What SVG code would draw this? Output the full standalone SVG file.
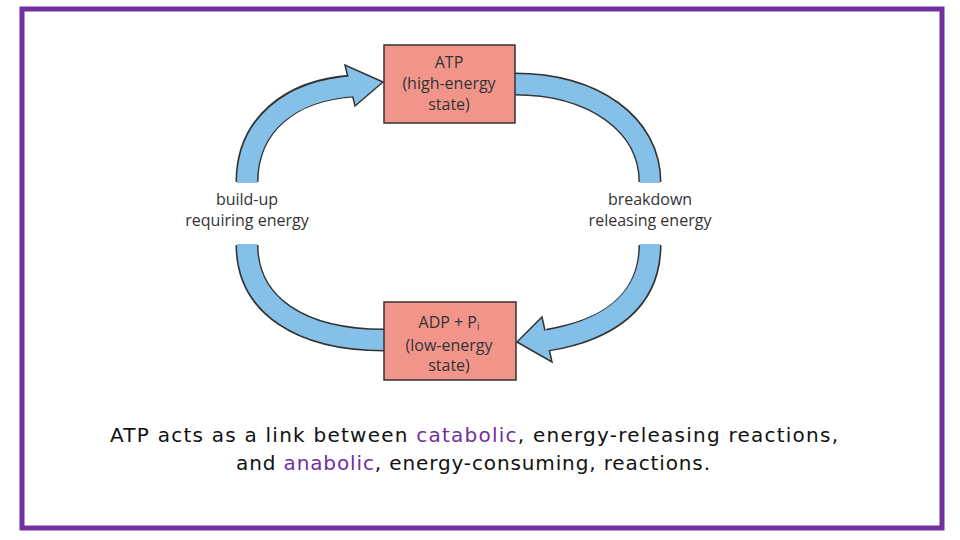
<svg xmlns="http://www.w3.org/2000/svg" width="960" height="540" viewBox="0 0 960 540">
<style>
.box{fill:#f1958a;stroke:#333;stroke-width:1.5}
.bt{font-family:"Open Sans","Liberation Sans",sans-serif;font-size:16px;fill:#333;text-anchor:middle}
.sd{fill:none;stroke:#333;stroke-width:23}
.sb{fill:none;stroke:#85c0e8;stroke-width:20}
.ah{fill:#85c0e8;stroke:#333;stroke-width:1.5;stroke-linejoin:miter}
.cap{font-family:"DejaVu Sans","Liberation Sans",sans-serif;font-size:20px;fill:#111}
</style>
<rect x="0" y="0" width="960" height="540" fill="#fff"/>
<rect x="22" y="9" width="920" height="519" fill="none" stroke="#7030a0" stroke-width="5"/>
<g id="connectors">
<path class="sd" d="M514,84 C595,84 650,125 650,182"/>
<path class="sd" d="M650,245 C650,300 610,330 548,340"/>
<path class="sd" d="M247,182 C247,125 290,90 352,86"/>
<path class="sd" d="M247,245 C247,305 300,340 384,340"/>
<polygon class="ah" points="517,342 542,317 552,362"/>
<polygon class="ah" points="383,82 345,65 355,106"/>
<path class="sb" d="M513,84 C595,84 650,125 650,183"/>
<path class="sb" d="M650,244 C650,300 610,330 544,341"/>
<path class="sb" d="M247,183 C247,125 290,90 356,86"/>
<path class="sb" d="M247,244 C247,305 300,340 384,340"/>
</g>
<g id="atp">
<rect class="box" x="384" y="45" width="131" height="78"/>
<text class="bt" x="449" y="68">ATP</text>
<text class="bt" x="449" y="89">(high-energy</text>
<text class="bt" x="449" y="110">state)</text>
</g>
<g id="adp">
<rect class="box" x="384" y="302" width="132" height="78"/>
<text class="bt" x="449" y="328">ADP + P<tspan font-size="10" dy="2">i</tspan></text>
<text class="bt" x="449" y="351">(low-energy</text>
<text class="bt" x="449" y="371">state)</text>
</g>
<g id="buildup">
<text class="bt" x="247" y="205">build-up</text>
<text class="bt" x="247" y="226">requiring energy</text>
</g>
<g id="breakdown">
<text class="bt" x="650" y="205">breakdown</text>
<text class="bt" x="650" y="226">releasing energy</text>
</g>
<g id="caption">
<text class="cap" x="110" y="442" textLength="728" lengthAdjust="spacing">ATP acts as a link between <tspan fill="#7030a0">catabolic</tspan>, energy-releasing reactions,</text>
<text class="cap" x="236" y="470" textLength="474" lengthAdjust="spacing">and <tspan fill="#7030a0">anabolic</tspan>, energy-consuming, reactions.</text>
</g>
</svg>
